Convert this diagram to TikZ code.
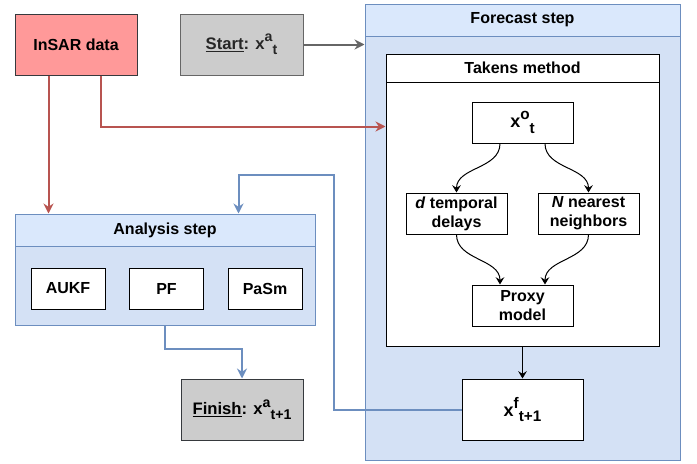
\documentclass[tikz,border=0pt]{standalone}
\usepackage{fontspec}
\setmainfont{Liberation Sans}
\usepackage{tikz}
\usetikzlibrary{arrows.meta}
\definecolor{myred}{HTML}{B85450}
\definecolor{mypink}{HTML}{FF9999}
\definecolor{myblue}{HTML}{6C8EBF}
\definecolor{mylight}{HTML}{DAE8FC}
\definecolor{mylane}{HTML}{D4E1F5}
\definecolor{mygrey}{HTML}{CCCCCC}
\definecolor{mydark}{HTML}{666666}
\definecolor{myedge}{HTML}{36393D}
\makeatletter
\newcommand{\hi}[1]{\raisebox{0.45em}{\fontsize{\fpeval{0.85*\f@size}}{0}\selectfont #1}}
\newcommand{\lo}[1]{\raisebox{-0.3em}{\fontsize{\fpeval{0.85*\f@size}}{0}\selectfont #1}}
\makeatother
\tikzset{
  box/.style 2 args={draw, rectangle, line width=0.75pt, inner sep=0pt, align=center,
    minimum width=#1*0.75pt, minimum height=#2*0.75pt,
    font=\fontsize{12}{14.4}\selectfont\bfseries},
  lane/.style={draw=myblue, fill=mylane},
  lanehead/.style={draw=myblue, fill=mylight, anchor=north},
  tip/.style={-{Stealth[length=5.5pt,width=6.5pt,inset=2pt]}, line width=0.75pt},
  flow/.style={-{Stealth[length=7.5pt,width=7.5pt,inset=2.5pt]}, line width=1.5pt}
}
\begin{document}
\begin{tikzpicture}[x=0.75pt,y=-0.75pt]
  \useasboundingbox (0,0) rectangle (697,464);
  \node[box={122}{61}, fill=mypink, draw=myedge] (insar) at (76,44.5) {InSAR data};
  \node[box={123}{61}, fill=mygrey, draw=mydark, text=black!85] (start) at (241.5,44.5) {\fontsize{12.5}{15}\selectfont\underline{Start}: x\hi{a}\lo{t}};
  \node[box={315}{456}, lane] (forecast) at (522.5,232) {};
  \node[box={315}{32}, lanehead] (forecasthead) at (forecast.north) {Forecast step};
  \node[box={273}{292}, fill=white] (takens) at (522.5,200) {};
  \node[box={273}{28}, fill=white, anchor=north] (takenshead) at (takens.north) {Takens method};
  \node[box={101}{41}, fill=white] (xo) at (522.5,122.5) {\fontsize{13.5}{16}\selectfont x\hi{o}\lo{t}};
  \node[box={101}{41}, fill=white] (delays) at (456.5,213.5) {\textit{d} temporal\\delays};
  \node[box={101}{41}, fill=white] (neigh) at (588.5,213.5) {\textit{N} nearest\\neighbors};
  \node[box={101}{41}, fill=white] (proxy) at (522.5,305.5) {Proxy\\model};
  \node[box={121}{61}, fill=white] (xf) at (522.5,409.5) {\fontsize{13.5}{16}\selectfont x\hi{f}\lo{t+1}};
  \node[box={300}{111}, lane] (analysis) at (165,269.5) {};
  \node[box={300}{32}, lanehead] (analysishead) at (analysis.north) {Analysis step};
  \foreach \name/\txt [count=\i from 0] in {aukf/AUKF, pf/PF, pasm/PaSm}
    \node[box={74}{41}, fill=white] (\name) at (68+98.5*\i,288.5) {\txt};
  \node[box={122}{61}, fill=mygrey, draw=myedge] (finish) at (242,409.5) {\fontsize{12.5}{15}\selectfont\underline{Finish}: x\hi{a}\lo{t+1}};
  \coordinate (back) at (334,175);
  \draw[flow, mydark] (start.east) -- (start.east -| forecast.west);
  \draw[flow, myred] ([xshift=25.5pt]insar.south west) -- ([xshift=25.5pt]analysis.north west);
  \draw[flow, myred] ([xshift=18.75pt]insar.south) |- ([yshift=-54.75pt]takens.north west);
  \draw[flow, myblue] (analysis.south) -- ++(0,23) -| (finish.north);
  \draw[flow, myblue] (xf.west) -| (back) -| ([xshift=168pt]analysis.north west);
  \draw[tip] ([xshift=-16.875pt]xo.south) to[out=-90,in=90] (delays.north);
  \draw[tip] ([xshift=16.875pt]xo.south) to[out=-90,in=90] (neigh.north);
  \draw[tip] (delays.south) to[out=-90,in=90] ([xshift=-16.875pt]proxy.north);
  \draw[tip] (neigh.south) to[out=-90,in=90] ([xshift=16.875pt]proxy.north);
  \draw[tip] (takens.south) -- (xf.north);
\end{tikzpicture}
\end{document}
